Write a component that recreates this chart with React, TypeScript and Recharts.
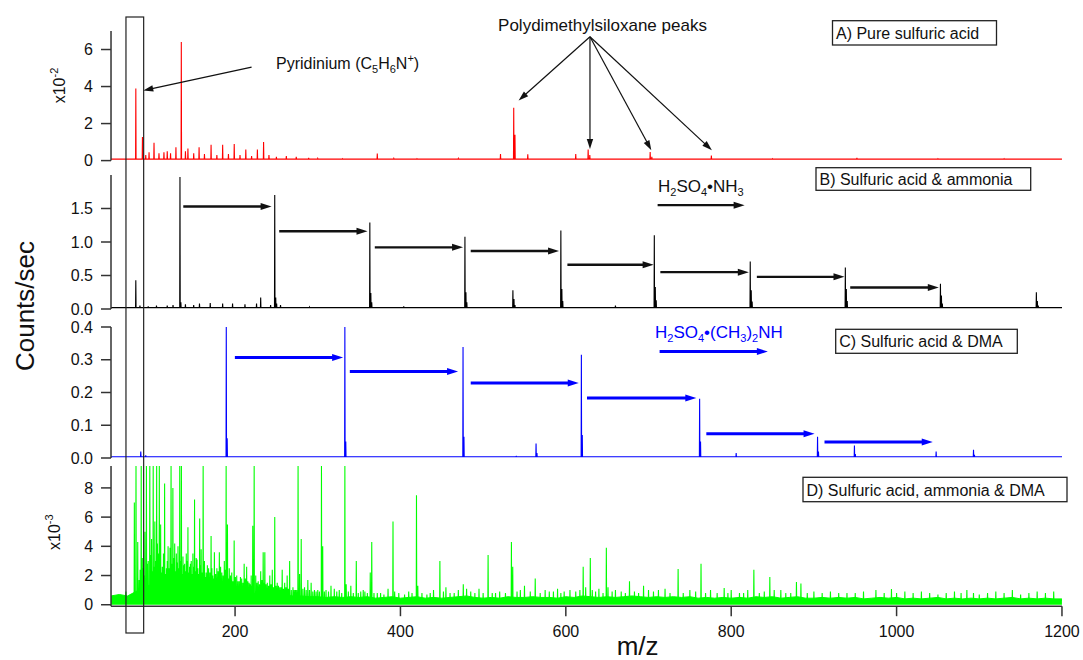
import React from 'react';
import { ComposedChart, Line, Area, XAxis, YAxis, ReferenceLine } from 'recharts';

const FONT = '"Liberation Sans", Arial, Helvetica, sans-serif';
const AXIS = '#333';

// shared m/z axis
const mzDomain = [50, 1200];
const mzTicks = [200, 400, 600, 800, 1000, 1200];

// A) pure sulfuric acid, [m/z, counts x1e-2]
const peaksA = [
  [80, 3.9], [88, 1.27], [92, 0.3], [96, 0.45], [102, 0.97], [108, 0.4], [114, 0.45], [118, 0.5],
  [122, 0.4], [128.5, 0.72], [135, 6.4], [140, 0.5], [143, 0.65], [150, 0.4], [156.5, 0.72],
  [163, 0.35], [171, 0.86], [178, 0.3], [185, 0.86], [192, 0.35], [199, 0.9], [206, 0.3],
  [213, 0.6], [220, 0.25], [227, 0.6], [234.5, 1.0], [241, 0.3], [250, 0.2], [262, 0.25],
  [274, 0.2], [289, 0.15], [300, 0.12], [330, 0.1], [372, 0.38], [392, 0.12], [420, 0.1],
  [470, 0.12], [521, 0.35], [537, 2.86], [538.5, 1.4], [554, 0.34], [612, 0.35], [627, 0.6],
  [629, 0.3], [702, 0.46], [704, 0.2], [776, 0.27], [850, 0.1], [952, 0.15], [1050, 0.1], [1130, 0.1],
];
const baseA = 0.08;

// B) sulfuric acid & ammonia, [m/z, counts/sec]
const peaksB = [
  [80, 0.43], [85, 0.05], [95, 0.04], [105, 0.05], [118, 0.05], [125, 0.06],
  [133.4, 1.97], [134.5, 0.1], [140, 0.07], [150, 0.06], [157, 0.08], [170, 0.09], [185, 0.08],
  [197, 0.08], [212, 0.07], [226, 0.08], [231, 0.17], [243, 0.06],
  [248, 1.7], [249.2, 0.17], [250.3, 0.08], [255, 0.06], [290, 0.03],
  [363, 1.29], [364.2, 0.24], [365.3, 0.1], [404, 0.04],
  [478, 1.08], [479.2, 0.25], [480.3, 0.1], [536, 0.28], [537.3, 0.15], [538.5, 0.06],
  [594, 1.17], [595.2, 0.3], [596.3, 0.12], [660, 0.05],
  [707, 1.1], [708.2, 0.33], [709.3, 0.13], [770, 0.02],
  [823, 0.71], [824.2, 0.28], [825.3, 0.11],
  [938, 0.62], [939.2, 0.3], [940.3, 0.12],
  [1053, 0.375], [1054.2, 0.2], [1055.3, 0.08],
  [1169, 0.25], [1170.2, 0.12], [1171.3, 0.05],
];
const baseB = 0.02;

// C) sulfuric acid & DMA
const peaksC = [
  [86, 0.02], [92, 0.008], [189.4, 0.4], [190.5, 0.06], [236, 0.004],
  [332.8, 0.4], [333.9, 0.05], [475.7, 0.339], [476.8, 0.065], [540, 0.005],
  [564, 0.044], [565.1, 0.015], [618.8, 0.315], [619.9, 0.07], [761.8, 0.181], [762.9, 0.05],
  [806, 0.015], [904.4, 0.065], [905.5, 0.02], [949, 0.038], [950.1, 0.012],
  [1047.8, 0.02], [1093, 0.025], [1094.1, 0.01],
];
const baseC = 0.004;

// D) sulfuric acid, ammonia & DMA, [m/z, counts x1e-3]
const peaksD = [
  [68, 0.9], [75, 0.7], [78.2, 7.0], [80.2, 9.5], [82.3, 4.3], [84, 1.7], [85.2, 2.4], [86.5, 9.5],
  [87.8, 3.2], [89, 2.5], [90, 2.0], [91, 5.0], [92.8, 9.5], [93.9, 2.8], [95, 3.0], [96.9, 9.5],
  [98, 3.4], [99, 4.5], [100, 2.3], [101, 9.5], [102, 2.6], [103, 5.7], [104, 3.0], [105.2, 9.5],
  [106.1, 4.2], [107, 3.5], [108.4, 9.5], [109.2, 2.9], [110, 5.5], [111, 2.2], [112, 2.6],
  [113.4, 3.5], [114.8, 8.3], [116, 2.1], [117, 2.5], [118, 3.0], [119, 4.0], [120, 2.5],
  [121.3, 3.9], [122.6, 9.5], [123.7, 2.8], [124.8, 8.0], [126, 3.2], [127, 4.2], [128, 2.3],
  [129, 3.5], [130, 2.9], [131, 4.0], [132, 2.5], [133.1, 9.5], [134.1, 3.0], [135.1, 9.5],
  [136, 2.1], [137, 3.3], [138, 2.7], [139, 2.8], [140, 2.3], [141, 3.5], [142, 3.0], [143, 5.3],
  [144, 2.2], [145, 2.6], [146, 2.8], [147, 3.0], [148, 2.1], [149, 3.5], [150, 2.6], [151, 7.2],
  [152, 2.3], [153, 3.2], [154, 3.1], [155, 2.5], [156, 2.1], [157.2, 5.9], [158.1, 2.7],
  [159, 3.8], [160.2, 2.2], [161.4, 9.5], [162.2, 2.5], [163, 3.0], [164, 1.9], [165, 2.2],
  [166.5, 2.7], [168, 2.5], [169.5, 2.2], [171, 4.7], [172, 2.5], [173, 2.0], [174, 1.8],
  [175, 3.6], [176.5, 2.1], [178, 2.5], [179.5, 2.3], [181, 3.6], [182.5, 2.6], [184, 2.2],
  [185.5, 2.0], [187, 3.0], [188, 2.4], [189.2, 9.5], [190.8, 5.5], [191.9, 1.8], [193, 2.5],
  [194.5, 2.0], [196, 2.2], [197.4, 1.6], [198.9, 4.4], [200.4, 1.9], [202, 2.0], [203.5, 1.6],
  [205, 1.6], [206.5, 1.9], [208, 1.8], [209.5, 1.5], [211, 2.8], [212.5, 1.8], [214, 2.6],
  [215.5, 1.6], [217, 1.5], [218.2, 1.4], [219.5, 2.0], [220.4, 1.3], [221.4, 5.4], [223.1, 9.5],
  [225, 2.0], [226.5, 1.5], [228, 1.6], [229.5, 1.4], [231, 2.3], [232.5, 1.7], [234, 3.6],
  [235, 1.5], [236, 3.6], [237.5, 1.4], [239, 1.5], [240.5, 1.3], [242, 2.0], [243.5, 1.4],
  [245, 2.4], [246.5, 1.2], [248, 6.0], [249.5, 1.3], [251, 1.5], [252.5, 1.3], [254, 1.2],
  [255.5, 1.2], [257, 2.4], [258.5, 1.1], [260, 1.5], [261.5, 1.2], [263, 2.0], [264.5, 1.1],
  [266, 3.0], [268, 1.0], [270, 1.2], [271.5, 1.0], [273, 1.0], [274.5, 1.0], [276.2, 9.5],
  [278, 2.1], [280, 4.5], [282, 1.1], [284, 1.2], [286, 1.0], [288, 1.7], [290, 1.0], [292, 1.5],
  [294, 0.9], [296, 1.0], [298, 0.9], [300, 1.0], [302, 0.9], [304.5, 9.5], [306, 4.0],
  [308, 0.9], [310, 1.0], [313, 0.9], [316, 1.3], [320, 1.1], [323, 0.9], [326, 1.0], [329, 0.8],
  [332.8, 9.5], [334.4, 1.4], [337, 0.9], [340, 1.3], [343, 0.8], [346.6, 3.0], [349, 0.8],
  [352, 0.9], [355, 1.0], [357, 0.9], [360, 0.8], [363.5, 2.2], [365.3, 4.3], [368, 0.8],
  [372, 0.8], [376, 0.8], [380, 0.7], [385, 1.1], [391, 5.7], [393, 0.9], [398, 0.8], [405, 0.7],
  [410, 0.9], [414, 0.8], [419.4, 7.5], [421, 1.3], [426, 0.8], [432, 0.7], [436, 0.8],
  [440, 1.0], [447.7, 3.0], [452, 0.9], [455, 1.2], [460, 0.8], [465, 0.8], [470, 1.0],
  [476, 1.4], [480, 1.1], [485, 0.9], [490, 0.8], [495, 1.1], [500, 0.8], [506, 3.4], [511, 0.8],
  [515, 0.8], [520, 0.9], [527, 0.8], [534.2, 4.3], [535.8, 2.6], [541, 0.9], [545, 1.0],
  [550, 1.3], [557, 0.9], [563, 1.8], [569, 0.8], [575, 1.0], [580, 0.9], [585, 0.9], [590, 1.1],
  [594, 0.8], [598, 0.9], [605, 1.0], [612, 0.9], [617, 1.0], [621, 2.6], [624, 1.2],
  [629.6, 3.2], [632, 1.0], [636, 0.9], [640, 1.1], [645, 0.8], [649, 3.9], [651, 1.2],
  [656, 0.9], [660, 1.0], [667, 0.9], [672, 0.8], [677, 1.6], [683, 0.9], [688, 0.8], [694, 1.3],
  [700, 1.0], [706, 0.9], [712, 1.0], [720, 1.1], [726, 0.8], [735.8, 2.45], [742, 0.8],
  [750, 1.0], [757, 0.9], [763.5, 2.8], [769, 0.8], [775, 1.0], [783, 0.8], [791.5, 1.15],
  [796, 0.8], [800, 1.0], [810, 0.8], [815, 0.8], [820, 1.0], [827.4, 2.4], [834, 0.8],
  [840, 0.9], [846.7, 1.9], [852, 1.0], [860, 1.0], [866, 0.8], [872, 0.8], [878.9, 1.55],
  [884.3, 1.45], [892, 0.8], [900, 0.9], [910, 0.8], [920, 0.9], [930, 0.8], [940, 0.8],
  [950, 0.8], [960, 0.9], [975, 1.0], [985, 0.8], [993.8, 1.07], [1000, 0.8], [1010, 0.9],
  [1020, 0.8], [1030, 0.9], [1040, 0.8], [1050, 0.7], [1060, 0.8], [1070, 0.9], [1078, 0.8],
  [1085, 1.0], [1093, 0.8], [1100, 0.7], [1110, 0.8], [1120, 0.9], [1130, 0.8], [1140, 1.0],
  [1150, 0.7], [1160, 0.8], [1170, 0.9], [1180, 0.8], [1190, 0.9],
];
const baseD = 0.3;

// D noise band, top of the filled band every 10 m/z from 50 to 1200
const floorStartD = 50;
const floorStepD = 10;
const floorD = [
  0.6, 0.7, 0.6, 0.9, 1.2, 1.4, 1.3, 1.4, 1.2, 1.2,
  1.1, 1.1, 1.0, 1.0, 0.9, 0.9, 0.8, 0.8, 0.75, 0.7,
  0.7, 0.65, 0.6, 0.6, 0.55, 0.55, 0.5, 0.55, 0.5, 0.55,
  0.5, 0.55, 0.45, 0.5, 0.55, 0.45, 0.5, 0.55, 0.45, 0.5,
  0.45, 0.5, 0.55, 0.6, 0.5, 0.45, 0.5, 0.45, 0.55, 0.5,
  0.5, 0.55, 0.5, 0.5, 0.45, 0.55, 0.5, 0.6, 0.55, 0.5,
  0.55, 0.5, 0.55, 0.6, 0.55, 0.5, 0.55, 0.5, 0.55, 0.5,
  0.55, 0.45, 0.5, 0.45, 0.5, 0.45, 0.5, 0.45, 0.55, 0.5,
  0.55, 0.45, 0.5, 0.55, 0.45, 0.45, 0.5, 0.45, 0.5, 0.45,
  0.5, 0.4, 0.45, 0.5, 0.45, 0.5, 0.4, 0.45, 0.4, 0.45,
  0.5, 0.4, 0.45, 0.4, 0.45, 0.4, 0.45, 0.4, 0.45, 0.5,
  0.4, 0.45, 0.4, 0.45, 0.4, 0.4,
];

// cluster-growth arrows [from m/z, to m/z, height]
const arrowsB = [
  [137.4, 244.2, 1.53], [253.4, 360.2, 1.16], [369.0, 475.7, 0.92], [485.0, 591.8, 0.865],
  [601.9, 706.2, 0.66], [714.3, 821.3, 0.55], [831.0, 937.0, 0.48], [943.9, 1051.0, 0.32],
];
const legendArrowB = [711.0, 816.2, 1.55];
const arrowsC = [
  [199.8, 330.7, 0.307], [338.8, 469.7, 0.264], [485.0, 615.6, 0.229],
  [625.6, 757.8, 0.183], [769.9, 900.8, 0.074], [912.8, 1043.7, 0.049],
];
const legendArrowC = [713.4, 844.3, 0.325];

// annotation arrows in panel A [x1, y1, x2, y2]
const pyridiniumArrow = [220.0, 5.05, 89.0, 3.78];
const pdmsArrows = [
  [629.2, 6.69, 542.9, 3.25],
  [629.2, 6.69, 629.2, 0.63],
  [629.2, 6.69, 703.4, 0.56],
  [629.2, 6.69, 776.6, 0.56],
];
const highlightMz = [68.1, 89.5];

const PLOT_L = 111;
const PLOT_R = 1062;
const Y_W = 60;
const xPx = (mz: number) => PLOT_L + ((mz - mzDomain[0]) * (PLOT_R - PLOT_L)) / (mzDomain[1] - mzDomain[0]);

function stickSpectrum(peaks: number[][], base: number) {
  const pts: { mz: number; v: number }[] = [{ mz: mzDomain[0], v: base }];
  [...peaks].sort((a, b) => a[0] - b[0]).forEach(([m, h]) => {
    pts.push({ mz: m - 0.3, v: base }, { mz: m, v: h }, { mz: m + 0.3, v: base });
  });
  pts.push({ mz: mzDomain[1], v: base });
  return pts;
}

const arrowShape = (color: string, w: number, head: number, hw: number) => (p: any) => {
  const { x1, y1, x2, y2 } = p;
  const dx = x2 - x1;
  const dy = y2 - y1;
  const len = Math.hypot(dx, dy) || 1;
  const ux = dx / len;
  const uy = dy / len;
  const bx = x2 - ux * head;
  const by = y2 - uy * head;
  return (
    <g>
      <line x1={x1} y1={y1} x2={bx + ux} y2={by + uy} stroke={color} strokeWidth={w} />
      <polygon
        points={`${x2},${y2} ${bx - uy * hw},${by + ux * hw} ${bx + uy * hw},${by - ux * hw}`}
        fill={color}
      />
    </g>
  );
};

const tickStyle = { fontSize: 16, fill: '#111', fontFamily: FONT };

function Panel({
  top,
  plotH,
  domain,
  ticks,
  fmt,
  data,
  color,
  floor,
  bottomAxis,
  children,
}: {
  top: number;
  plotH: number;
  domain: number[];
  ticks: number[];
  fmt: (v: number) => string;
  data: any[];
  color: string;
  floor?: any[];
  bottomAxis?: boolean;
  children?: React.ReactNode;
}) {
  const mt = 10;
  const mb = bottomAxis ? 0 : 10;
  const xh = bottomAxis ? 44 : 0;
  return (
    <div style={{ position: 'absolute', left: 0, top: top - mt }}>
      <ComposedChart
        width={1083}
        height={plotH + mt + mb + xh}
        margin={{ top: mt, right: 1083 - PLOT_R, bottom: mb, left: PLOT_L - Y_W }}
      >
        <XAxis
          dataKey="mz"
          type="number"
          domain={mzDomain}
          ticks={mzTicks}
          interval={0}
          allowDataOverflow
          hide={!bottomAxis}
          height={xh}
          tickSize={10}
          tickMargin={9}
          tick={tickStyle}
          axisLine={{ stroke: AXIS, strokeWidth: 1.5 }}
          tickLine={{ stroke: AXIS, strokeWidth: 1.5 }}
        />
        <YAxis
          type="number"
          width={Y_W}
          domain={domain}
          ticks={ticks}
          interval={0}
          allowDataOverflow
          tickFormatter={fmt}
          tickSize={10}
          tickMargin={8}
          tick={tickStyle}
          axisLine={{ stroke: AXIS, strokeWidth: 1.5 }}
          tickLine={{ stroke: AXIS, strokeWidth: 1.5 }}
        />
        {floor && (
          <Area
            data={floor}
            dataKey="v"
            type="linear"
            stroke={color}
            strokeWidth={1}
            fill={color}
            fillOpacity={1}
            dot={false}
            isAnimationActive={false}
          />
        )}
        <Line
          data={data}
          dataKey="v"
          type="linear"
          stroke={color}
          strokeWidth={1.1}
          dot={false}
          activeDot={false}
          isAnimationActive={false}
        />
        {children}
      </ComposedChart>
    </div>
  );
}

function hArrows(list: number[][], color: string, w: number) {
  return list.map((a, i) => (
    <ReferenceLine
      key={`${color}-${i}`}
      segment={[{ x: a[0], y: a[2] }, { x: a[1], y: a[2] }]}
      ifOverflow="visible"
      stroke={color}
      shape={arrowShape(color, w, 11, 3.5)}
    />
  ));
}

// text with sub (1) / superscript (-1) parts
function Formula({
  x,
  y,
  parts,
  size,
  color = '#111',
  rotate,
}: {
  x: number;
  y: number;
  parts: [string, number][];
  size: number;
  color?: string;
  rotate?: boolean;
}) {
  let cur = 0;
  return (
    <text
      x={x}
      y={y}
      fontSize={size}
      fill={color}
      transform={rotate ? `rotate(-90 ${x} ${y})` : undefined}
    >
      {parts.map(([t, s], i) => {
        const target = s === 1 ? 4 : s === -1 ? -7 : 0;
        const dy = target - cur;
        cur = target;
        return (
          <tspan key={i} dy={dy} fontSize={s ? 11 : size}>
            {t}
          </tspan>
        );
      })}
    </text>
  );
}

function BoxLabel({ x, y, w, h, text }: { x: number; y: number; w: number; h: number; text: string }) {
  return (
    <g>
      <rect x={x} y={y} width={w} height={h} fill="white" stroke="#222" strokeWidth={1.3} />
      <text x={x + 3.5} y={y + h / 2 + 6} fontSize={16} fill="#111">
        {text}
      </text>
    </g>
  );
}

export default function App() {
  const dataA = stickSpectrum(peaksA, baseA);
  const dataB = stickSpectrum(peaksB, baseB);
  const dataC = stickSpectrum(peaksC, baseC);
  const dataD = stickSpectrum(peaksD, baseD);
  const floorData = floorD.map((v, i) => ({ mz: floorStartD + i * floorStepD, v }));

  const fmt0 = (v: number) => String(v);
  const fmt1 = (v: number) => v.toFixed(1);

  return (
    <div
      style={{
        position: 'absolute',
        left: 0,
        top: 0,
        width: 1083,
        height: 660,
        background: 'white',
        fontFamily: FONT,
        overflow: 'hidden',
      }}
    >
      <Panel top={30.7} plotH={129.6} domain={[0, 7]} ticks={[0, 2, 4, 6]} fmt={fmt0} data={dataA} color="#ff0000">
        <ReferenceLine
          segment={[
            { x: pyridiniumArrow[0], y: pyridiniumArrow[1] },
            { x: pyridiniumArrow[2], y: pyridiniumArrow[3] },
          ]}
          ifOverflow="visible"
          stroke="#111"
          shape={arrowShape('#111', 1.2, 10, 3.2)}
        />
        {pdmsArrows.map((a, i) => (
          <ReferenceLine
            key={`pdms-${i}`}
            segment={[{ x: a[0], y: a[1] }, { x: a[2], y: a[3] }]}
            ifOverflow="visible"
            stroke="#111"
            shape={arrowShape('#111', 1.2, 10, 3.2)}
          />
        ))}
      </Panel>

      <Panel top={175} plotH={134} domain={[0, 2]} ticks={[0, 0.5, 1, 1.5]} fmt={fmt1} data={dataB} color="#000000">
        {hArrows(arrowsB, '#111', 2.4)}
        {hArrows([legendArrowB], '#111', 2.4)}
      </Panel>

      <Panel top={327.3} plotH={131} domain={[0, 0.4]} ticks={[0, 0.1, 0.2, 0.3, 0.4]} fmt={fmt1} data={dataC} color="#0000ff">
        {hArrows(arrowsC, '#0000ff', 3)}
        {hArrows([legendArrowC], '#0000ff', 3)}
      </Panel>

      <Panel
        top={466.3}
        plotH={140.2}
        domain={[-0.1, 9.5]}
        ticks={[0, 2, 4, 6, 8]}
        fmt={fmt0}
        data={dataD}
        floor={floorData}
        color="#00ff00"
        bottomAxis
      />

      <svg
        width={1083}
        height={660}
        style={{ position: 'absolute', left: 0, top: 0, pointerEvents: 'none', fontFamily: FONT }}
      >
        <rect
          x={xPx(highlightMz[0])}
          y={17}
          width={xPx(highlightMz[1]) - xPx(highlightMz[0])}
          height={616}
          fill="none"
          stroke="#222"
          strokeWidth={1.2}
        />

        <Formula
          x={276}
          y={69}
          size={16}
          parts={[['Pyridinium (C', 0], ['5', 1], ['H', 0], ['6', 1], ['N', 0], ['+', -1], [')', 0]]}
        />
        <text x={602.5} y={31} fontSize={17} fill="#111" textAnchor="middle">
          Polydimethylsiloxane peaks
        </text>

        <Formula
          x={658}
          y={192}
          size={17}
          parts={[['H', 0], ['2', 1], ['SO', 0], ['4', 1], ['•NH', 0], ['3', 1]]}
        />
        <Formula
          x={655}
          y={338}
          size={17}
          color="#0000ff"
          parts={[['H', 0], ['2', 1], ['SO', 0], ['4', 1], ['•(CH', 0], ['3', 1], [')', 0], ['2', 1], ['NH', 0]]}
        />

        <BoxLabel x={832.5} y={20.7} w={164} h={24.3} text="A) Pure sulfuric acid" />
        <BoxLabel x={816} y={167.7} w={214.7} h={22.6} text="B) Sulfuric acid & ammonia" />
        <BoxLabel x={835.7} y={329.3} w={181.6} h={24} text="C) Sulfuric acid & DMA" />
        <BoxLabel x={803} y={477.3} w={264} h={24.4} text="D) Sulfuric acid, ammonia & DMA" />

        <text x={34} y={306} fontSize={26} fill="#111" textAnchor="middle" transform="rotate(-90 34 306)">
          Counts/sec
        </text>
        <text x={637.6} y={655} fontSize={26} fill="#111" textAnchor="middle">
          m/z
        </text>
        <Formula x={65} y={103.3} size={16} rotate parts={[['x10', 0], ['-2', -1]]} />
        <Formula x={60} y={550} size={16} rotate parts={[['x10', 0], ['-3', -1]]} />
      </svg>
    </div>
  );
}
